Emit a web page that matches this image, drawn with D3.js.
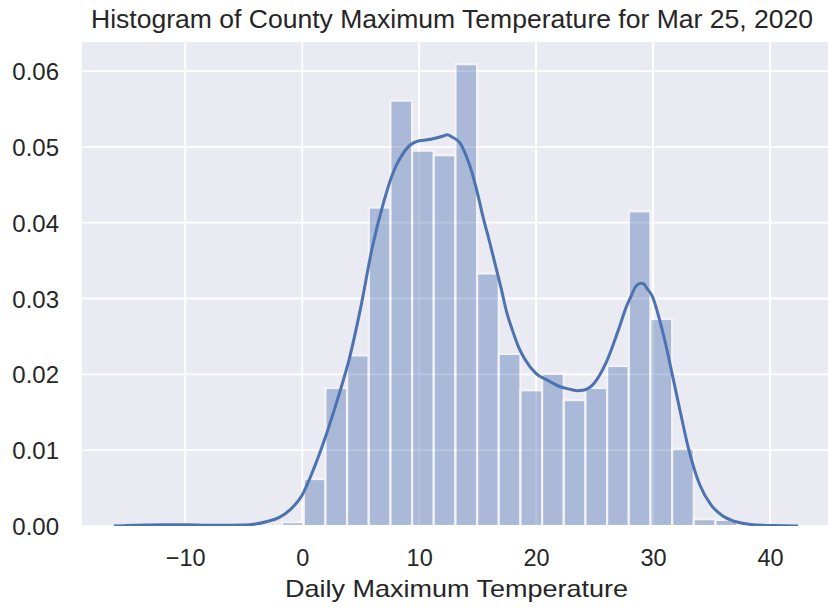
<!DOCTYPE html>
<html>
<head>
<meta charset="utf-8">
<script src="https://cdn.jsdelivr.net/npm/d3@7"></script>
<style>
  html, body { margin: 0; padding: 0; background: #ffffff; }
  svg { display: block; }
  text { font-family: "Liberation Sans", Arial, Helvetica, sans-serif; fill: #262626; }
</style>
</head>
<body>
<svg id="chart" width="828" height="610"></svg>
<script>
// ---- Data ----
const titleText = "Histogram of County Maximum Temperature for Mar 25, 2020";
const xLabelText = "Daily Maximum Temperature";

// histogram bin edges (temperature) and density of each bin
const binEdges = [-1.722, 0.131, 1.984, 3.837, 5.690, 7.543, 9.396, 11.249, 13.102, 14.955,
  16.808, 18.661, 20.514, 22.367, 24.220, 26.073, 27.926, 29.779, 31.632, 33.485, 35.338, 37.191];
const binDensity = [0.0005, 0.0062, 0.0182, 0.0225, 0.0420, 0.0561, 0.0495, 0.0489, 0.0609, 0.0333,
  0.0227, 0.0179, 0.0201, 0.0166, 0.0182, 0.0211, 0.0415, 0.0273, 0.0102, 0.0009, 0.0008];

// KDE curve
const kdeX = [-16.1, -15, -14, -12, -10, -8, -6, -5, -4, -3, -2, -1, 0, 1, 2, 3, 4, 5, 6, 7,
  7.65, 8, 8.37, 9, 10, 11, 12, 12.4, 12.8, 13.5, 14, 14.5, 15, 15.5, 16, 16.5, 17, 17.5, 18, 18.5, 19, 20,
  21, 22, 23, 23.5, 24, 25, 26, 27, 27.79, 28, 28.64, 29, 29.2, 29.5, 29.93, 30.64, 31, 31.5, 32,
  32.35, 33, 34, 35, 36, 36.63, 37, 38.35, 40.3, 42.4];
const kdeY = [0.00001, 0.00005, 0.0001, 0.00015, 0.00015, 0.0001, 0.0001, 0.00012, 0.00025, 0.0006,
  0.0011, 0.0022, 0.0041, 0.0076, 0.0118, 0.0166, 0.0219, 0.0288, 0.0368, 0.0429,
  0.0461, 0.0474, 0.0485, 0.0499, 0.0508, 0.0510, 0.0514, 0.0516, 0.0513, 0.0505, 0.0489, 0.0467, 0.0438, 0.0405, 0.0376, 0.0345, 0.0314, 0.0281, 0.0257, 0.0236, 0.0221, 0.0201,
  0.0192, 0.0184, 0.0180, 0.01785, 0.0179, 0.0189, 0.0216, 0.0257, 0.0292, 0.0299, 0.0318, 0.0320, 0.0319, 0.0313, 0.0303, 0.0267, 0.0245, 0.0210, 0.0174,
  0.0149, 0.0104, 0.0054, 0.0027, 0.0013, 0.0008, 0.0006, 0.0002, 0.00005, 0.0];

const xTicks = [-10, 0, 10, 20, 30, 40];
const yTicks = [0.00, 0.01, 0.02, 0.03, 0.04, 0.05, 0.06];

// ---- Layout ----
const plot = { left: 82, top: 42, right: 832, bottom: 526 };
const svg = d3.select("#chart");

const x = d3.scaleLinear().domain([-18.83, 45.3]).range([plot.left, plot.right]);
const y = d3.scaleLinear().domain([0, 0.06383]).range([plot.bottom, plot.top]);

// background
svg.append("rect")
  .attr("x", plot.left).attr("y", plot.top)
  .attr("width", plot.right - plot.left).attr("height", plot.bottom - plot.top)
  .attr("fill", "#eaeaf2");

// grid
const grid = svg.append("g").attr("stroke", "#ffffff").attr("stroke-width", 1.8);
grid.selectAll("line.v").data(xTicks).join("line")
  .attr("x1", d => x(d)).attr("x2", d => x(d))
  .attr("y1", plot.top).attr("y2", plot.bottom);
grid.selectAll("line.h").data(yTicks).join("line")
  .attr("x1", plot.left).attr("x2", plot.right)
  .attr("y1", d => y(d)).attr("y2", d => y(d));

// clip
svg.append("clipPath").attr("id", "clip").append("rect")
  .attr("x", plot.left).attr("y", plot.top)
  .attr("width", plot.right - plot.left).attr("height", plot.bottom - plot.top);

// bars
const bins = binDensity.map((v, i) => ({ x0: binEdges[i], x1: binEdges[i + 1], v }));
svg.append("g").attr("opacity", 0.4).attr("clip-path", "url(#clip)")
  .selectAll("rect").data(bins).join("rect")
  .attr("x", d => x(d.x0)).attr("width", d => x(d.x1) - x(d.x0))
  .attr("y", d => y(d.v)).attr("height", d => y(0) - y(d.v))
  .attr("fill", "#4c72b0").attr("stroke", "#ffffff").attr("stroke-width", 2.2);

// KDE line
const kde = kdeX.map((v, i) => [v, kdeY[i]]);
svg.append("path").datum(kde)
  .attr("clip-path", "url(#clip)")
  .attr("fill", "none").attr("stroke", "#4c72b0").attr("stroke-width", 3)
  .attr("stroke-linejoin", "round").attr("stroke-linecap", "butt")
  .attr("d", d3.line().x(d => x(d[0])).y(d => y(d[1])).curve(d3.curveMonotoneX));

// axes
const xAxis = svg.append("g").attr("transform", `translate(0,${plot.bottom})`)
  .call(d3.axisBottom(x).tickValues(xTicks).tickSize(0).tickPadding(0)
    .tickFormat(d => d < 0 ? "\u2212" + Math.abs(d) : String(d)));
xAxis.select(".domain").remove();
xAxis.selectAll("text").attr("y", 40).attr("dy", null)
  .style("font-size", "23.5px").style("fill", "#262626");

const yAxis = svg.append("g").attr("transform", `translate(59,0)`)
  .call(d3.axisLeft(y).tickValues(yTicks).tickSize(0).tickPadding(0).tickFormat(d3.format(".2f")));
yAxis.select(".domain").remove();
yAxis.selectAll("text").attr("x", 0).attr("dy", "0.36em")
  .style("font-size", "24px").style("fill", "#262626");

// title
svg.append("text")
  .attr("x", 452).attr("y", 27.5)
  .attr("text-anchor", "middle")
  .attr("textLength", 722).attr("lengthAdjust", "spacingAndGlyphs")
  .style("font-size", "25px")
  .text(titleText);

// x label
svg.append("text")
  .attr("x", 456.5).attr("y", 597)
  .attr("text-anchor", "middle")
  .attr("textLength", 343).attr("lengthAdjust", "spacingAndGlyphs")
  .style("font-size", "24px")
  .text(xLabelText);
</script>
</body>
</html>
